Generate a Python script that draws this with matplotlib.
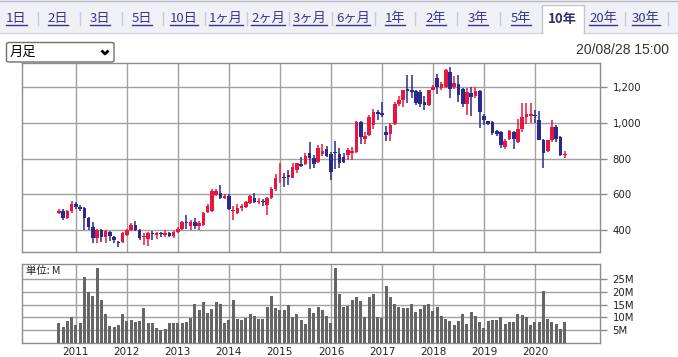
import matplotlib
matplotlib.use("Agg")
import matplotlib.pyplot as plt
from matplotlib.patches import Rectangle, FancyBboxPatch
from matplotlib.lines import Line2D

# ---------------- data (monthly, Sep 2010 .. Aug 2020) ----------------
opens = [498, 510, 470, 505, 547, 532, 523, 468, 420, 357,
         402, 362, 393, 362, 337, 335, 375, 402, 432, 404,
         360, 350, 385, 376, 385, 375, 384, 368, 392, 408,
         448, 422, 445, 425, 432, 500, 505, 598, 610, 581,
         594, 506, 494, 524, 532, 551, 581, 557, 566, 543,
         581, 632, 689, 698, 708, 694, 736, 768, 768, 830,
         805, 781, 825, 856, 825, 836, 828, 808, 822, 830,
         837, 1005, 912, 930, 986, 1058, 1055, 951, 935, 995,
         1107, 1128, 1190, 1180, 1178, 1172, 1116, 1098, 1185, 1248,
         1192, 1200, 1284, 1200, 1215, 1190, 1105, 1168, 1150, 1178,
         1040, 1009, 1004, 956, 950, 866, 910, 950, 893, 967,
         1032, 1036, 1045, 1015, 903, 843, 903, 977, 918, 818]
highs = [520, 517, 514, 565, 560, 541, 532, 472, 445, 410,
         410, 400, 398, 368, 342, 392, 408, 440, 454, 410,
         385, 392, 394, 392, 392, 400, 390, 395, 418, 452,
         485, 455, 470, 450, 500, 545, 628, 630, 650, 600,
         600, 538, 547, 545, 566, 595, 607, 581, 575, 585,
         641, 713, 777, 721, 736, 774, 777, 811, 830, 891,
         818, 877, 883, 868, 834, 900, 858, 830, 860, 862,
         1012, 1008, 948, 1043, 1075, 1070, 1115, 982, 1000, 1115,
         1150, 1185, 1265, 1265, 1185, 1180, 1150, 1185, 1210, 1274,
         1225, 1300, 1310, 1260, 1265, 1195, 1192, 1202, 1202, 1180,
         1050, 1012, 1008, 960, 955, 910, 960, 956, 1019, 1108,
         1108, 1112, 1070, 1067, 910, 905, 1015, 985, 925, 845]
lows = [490, 458, 462, 495, 520, 505, 400, 400, 330, 330,
        335, 330, 343, 328, 305, 330, 368, 394, 398, 348,
        318, 315, 345, 350, 360, 360, 360, 358, 385, 400,
        405, 400, 405, 400, 425, 495, 500, 590, 575, 572,
        513, 455, 490, 510, 525, 545, 555, 547, 538, 487,
        575, 622, 664, 641, 651, 689, 717, 755, 764, 740,
        750, 777, 815, 808, 680, 742, 745, 774, 790, 790,
        832, 884, 884, 925, 965, 1015, 1030, 900, 900, 990,
        1095, 1090, 1110, 1140, 1100, 1090, 1070, 1095, 1180, 1163,
        1180, 1195, 1140, 1190, 1116, 1088, 1045, 1036, 1140, 970,
        987, 985, 931, 925, 858, 855, 905, 856, 885, 950,
        995, 1000, 1000, 903, 750, 838, 895, 895, 815, 805]
closes = [510, 470, 508, 548, 528, 517, 466, 418, 357, 400,
          362, 395, 366, 347, 330, 383, 402, 432, 404, 355,
          368, 385, 378, 387, 380, 384, 370, 392, 410, 448,
          440, 448, 425, 440, 495, 535, 620, 620, 580, 594,
          519, 513, 524, 538, 557, 589, 557, 566, 560, 581,
          632, 689, 694, 689, 698, 755, 774, 760, 815, 805,
          772, 860, 845, 815, 726, 830, 775, 781, 848, 842,
          1005, 921, 925, 1033, 1060, 1050, 1045, 933, 990, 1107,
          1128, 1180, 1178, 1172, 1110, 1107, 1098, 1181, 1200, 1200,
          1215, 1293, 1190, 1219, 1153, 1107, 1174, 1146, 1178, 1062,
          1016, 991, 944, 935, 875, 900, 954, 908, 963, 1030,
          1050, 1048, 1035, 906, 830, 903, 978, 910, 822, 826]
volumes = [7.6, 6.1, 8.5, 10.1, 6.9, 7.6, 26.0, 20.0, 18.3, 29.4,
           16.7, 11.1, 6.5, 6.1, 6.9, 11.4, 8.5, 8.8, 8.1, 8.5,
           13.5, 7.6, 7.6, 5.6, 5.0, 5.2, 7.6, 7.6, 7.6, 7.6,
           8.0, 9.5, 15.1, 12.7, 15.9, 11.8, 13.1, 15.8, 15.1, 7.6,
           8.8, 16.7, 9.2, 8.8, 9.5, 11.1, 10.3, 9.2, 9.2, 14.1,
           18.2, 13.5, 12.7, 12.7, 14.7, 10.1, 11.1, 8.8, 7.2, 13.5,
           11.5, 14.1, 12.7, 10.3, 7.8, 29.4, 19.1, 14.2, 14.6, 16.8,
           18.0, 16.4, 10.1, 17.8, 19.1, 9.9, 9.6, 22.4, 17.8, 15.1,
           14.2, 13.8, 13.8, 15.1, 12.2, 13.3, 14.9, 15.3, 12.5, 14.1,
           10.5, 9.3, 8.6, 7.0, 8.3, 11.3, 7.4, 12.1, 10.5, 7.9,
           5.9, 8.6, 8.9, 8.7, 10.1, 7.4, 8.2, 8.2, 11.3, 10.9,
           10.1, 7.0, 7.9, 8.2, 20.4, 9.3, 7.9, 7.4, 5.4, 7.9]
year_labels = ['2011', '2012', '2013', '2014', '2015',
               '2016', '2017', '2018', '2019', '2020']
price_ticks = [400, 600, 800, 1000, 1200]
vol_ticks = [5, 10, 15, 20, 25]
tabs = ['1日', '2日', '3日', '5日', '10日', '1ヶ月', '2ヶ月', '3ヶ月', '6ヶ月',
        '1年', '2年', '3年', '5年', '10年', '20年', '30年']
active_tab = '10年'
period_label = '月足'
timestamp = '20/08/28 15:00'
unit_label = '単位: M'

# ---------------- layout ----------------
W, H = 678, 357
fig = plt.figure(figsize=(W / 100, H / 100), dpi=100)
fig.patch.set_facecolor('white')


def fx(x):
    return x / W


def fy(y):
    return 1 - y / H


JP = ['Noto Sans CJK JP', 'DejaVu Sans']
UP = '#e8163f'
DOWN = '#2b2a8c'
GRID = '#a0a0a0'
BORDER = '#8c8c8c'
LINK = '#35358f'

# tab bar
fig.add_artist(Rectangle((0, fy(32.5)), 1, fy(0) - fy(32.5), transform=fig.transFigure,
                         facecolor='#f0f1f7', edgecolor='none', zorder=0))
fig.add_artist(Line2D([0, 1], [fy(0.5), fy(0.5)], transform=fig.transFigure, color='#b8b8c0', lw=1))
fig.add_artist(Line2D([0, fx(542)], [fy(32.5), fy(32.5)], transform=fig.transFigure, color='#d4d4dc', lw=1))
fig.add_artist(Line2D([fx(584), 1], [fy(32.5), fy(32.5)], transform=fig.transFigure, color='#d4d4dc', lw=1))
fig.add_artist(Rectangle((fx(542), fy(33)), fx(584) - fx(542), fy(4.5) - fy(33), transform=fig.transFigure,
                         facecolor='white', edgecolor='none', zorder=1))
fig.add_artist(Line2D([fx(542), fx(542), fx(584), fx(584)], [fy(33), fy(4.5), fy(4.5), fy(33)],
                      transform=fig.transFigure, color='#c4c4cc', lw=1, zorder=2))

tab_centers = [16.5, 58, 100, 142, 184, 226, 268, 310, 353, 395, 436, 478, 521, 562, 603, 646]
sep_x = [37.5, 80, 121.5, 163, 205, 247, 289, 331.5, 375.5, 415, 457, 499.5, 625, 668]
for sx in sep_x:
    fig.add_artist(Line2D([fx(sx), fx(sx)], [fy(12), fy(25)], transform=fig.transFigure,
                          color='#c8c8d0', lw=1))

tab_texts = []
for lab, cx in zip(tabs, tab_centers):
    if lab == active_tab:
        fig.text(fx(cx), fy(18.5), lab, ha='center', va='center', fontsize=9.5,
                 family=JP, color='#30306a', fontweight='bold')
    else:
        t = fig.text(fx(cx), fy(18.5), lab, ha='center', va='center', fontsize=9.5,
                     family=JP, color=LINK)
        tab_texts.append(t)

# dropdown
fig.add_artist(FancyBboxPatch((fx(6.5), fy(62)), fx(114) - fx(6.5), fy(42.5) - fy(62),
                              boxstyle='round,pad=0,rounding_size=0.004', transform=fig.transFigure,
                              facecolor='white', edgecolor='#6e6e6e', lw=1, zorder=3))
fig.text(fx(10), fy(52.5), period_label, ha='left', va='center', fontsize=9.5, family=JP,
         color='black', zorder=4)
fig.add_artist(Line2D([fx(101.5), fx(105), fx(108.5)], [fy(50.5), fy(54), fy(50.5)],
                      transform=fig.transFigure, color='black', lw=2.0, zorder=4,
                      solid_capstyle='butt'))
fig.text(fx(669), fy(50), timestamp, ha='right', va='center', fontsize=10,
         family='Liberation Sans', color='#333333')

# ---------------- price axes ----------------
n = len(closes)
idx = list(range(n))
jan_idx = [4 + 12 * k for k in range(len(year_labels))]
XL = (-8.8, 127.3)

ax = fig.add_axes([fx(21.5), fy(252), fx(600) - fx(21.5), fy(62.5) - fy(252)])
ax.set_xlim(*XL)
ax.set_ylim(279, 1336)
for i in idx:
    o, h, l, c = opens[i], highs[i], lows[i], closes[i]
    col = UP if c >= o else DOWN
    ax.vlines(i, l, h, color=col, lw=1.1, zorder=3)
    bot = min(o, c)
    hgt = max(abs(c - o), 5)
    ax.bar(i, hgt, bottom=bot, width=0.85, color=col, edgecolor='none', zorder=4)
ax.set_xticks(jan_idx)
ax.set_xticklabels([])
ax.tick_params(axis='x', length=0)
ax.set_yticks(price_ticks)
ax.set_yticklabels([f'{v:,}' for v in price_ticks])
ax.yaxis.tick_right()
ax.tick_params(axis='y', direction='out', length=5, width=1, color=BORDER,
               labelsize=7.3, pad=4, labelcolor='#222222')
ax.grid(True, color=GRID, lw=1)
ax.set_axisbelow(True)
for s in ax.spines.values():
    s.set_color(BORDER)
    s.set_linewidth(1)

# ---------------- volume axes ----------------
axv = fig.add_axes([fx(21.5), fy(342.5), fx(600) - fx(21.5), fy(264) - fy(342.5)])
axv.set_xlim(*XL)
axv.set_ylim(0, 31)
axv.bar(idx, volumes, width=0.72, color='#666666', edgecolor='none', zorder=3)
axv.set_xticks(jan_idx)
axv.set_xticklabels(year_labels)
axv.tick_params(axis='x', length=0, labelsize=7.5, pad=3, labelcolor='#222222')
axv.set_yticks(vol_ticks)
axv.set_yticklabels([f'{v}M' for v in vol_ticks])
axv.yaxis.tick_right()
axv.tick_params(axis='y', direction='out', length=5, width=1, color=BORDER,
                labelsize=7.3, pad=4, labelcolor='#222222')
axv.grid(True, color=GRID, lw=1)
axv.set_axisbelow(True)
for s in axv.spines.values():
    s.set_color(BORDER)
    s.set_linewidth(1)
axv.text(0.008, 0.91, unit_label, transform=axv.transAxes, ha='left', va='center',
         fontsize=7.5, family=JP, color='#222222', zorder=5,
         bbox=dict(facecolor='white', edgecolor='none', pad=0.5))

# underline links
fig.canvas.draw()
r = fig.canvas.get_renderer()
for t in tab_texts:
    bb = t.get_window_extent(renderer=r)
    fig.add_artist(Line2D([bb.x0 / W, bb.x1 / W], [fy(25), fy(25)],
                          transform=fig.transFigure, color=LINK, lw=1))

fig.savefig('out.png', dpi=100)
